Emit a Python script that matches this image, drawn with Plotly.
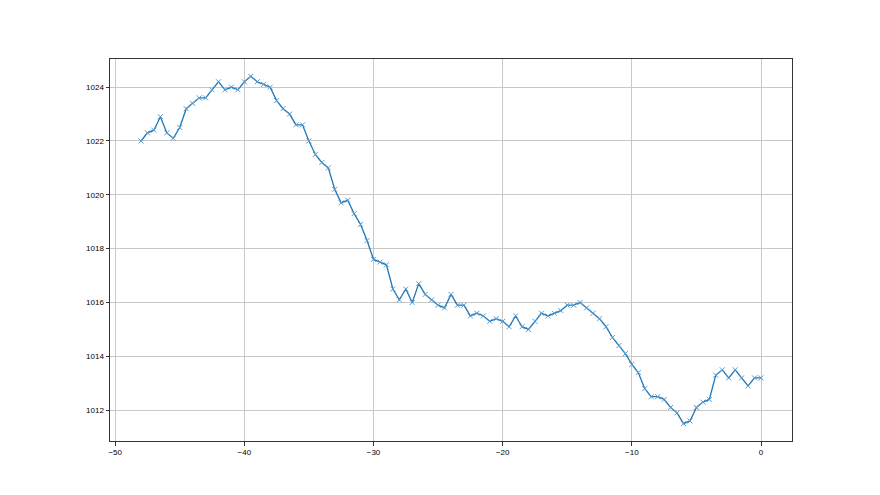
import plotly.graph_objects as go

x_values = [i * 0.5 - 48 for i in range(97)]
pressure = [
    1022.0, 1022.3, 1022.4, 1022.9, 1022.3, 1022.1, 1022.5, 1023.2, 1023.4, 1023.6,
    1023.6, 1023.9, 1024.2, 1023.9, 1024.0, 1023.9, 1024.2, 1024.4, 1024.2, 1024.1,
    1024.0, 1023.5, 1023.2, 1023.0, 1022.6, 1022.6, 1022.0, 1021.5, 1021.2, 1021.0,
    1020.2, 1019.7, 1019.8, 1019.3, 1018.9, 1018.3, 1017.6, 1017.5, 1017.4, 1016.5,
    1016.1, 1016.5, 1016.0, 1016.7, 1016.3, 1016.1, 1015.9, 1015.8, 1016.3, 1015.9,
    1015.9, 1015.5, 1015.6, 1015.5, 1015.3, 1015.4, 1015.3, 1015.1, 1015.5, 1015.1,
    1015.0, 1015.3, 1015.6, 1015.5, 1015.6, 1015.7, 1015.9, 1015.9, 1016.0, 1015.8,
    1015.6, 1015.4, 1015.1, 1014.7, 1014.4, 1014.1, 1013.7, 1013.4, 1012.8, 1012.5,
    1012.5, 1012.4, 1012.1, 1011.9, 1011.5, 1011.6, 1012.1, 1012.3, 1012.4, 1013.3,
    1013.5, 1013.2, 1013.5, 1013.2, 1012.9, 1013.2, 1013.2,
]
x_ticks = [-50, -40, -30, -20, -10, 0]
y_ticks = [1012, 1014, 1016, 1018, 1020, 1022, 1024]

color = "#1f77b4"
fig = go.Figure()
fig.add_trace(go.Scatter(
    x=x_values, y=pressure, mode="lines+markers",
    line=dict(color=color, width=1.3),
    marker=dict(symbol="x-thin", size=5, color=color, line=dict(color="#5a9bd0", width=1)),
    showlegend=False,
))

xmin, xmax = min(x_values), max(x_values)
ymin, ymax = min(pressure), max(pressure)
xpad = (xmax - xmin) * 0.05
ypad = (ymax - ymin) * 0.05

axis_common = dict(
    showline=True, linecolor="#333333", linewidth=1, mirror=True,
    ticks="outside", ticklen=3.5, tickcolor="#333333", tickwidth=1,
    showgrid=True, gridcolor="#c8c8c8", gridwidth=0.8,
    zeroline=False,
    tickfont=dict(family="Liberation Sans Narrow, Liberation Sans, DejaVu Sans", size=8, color="black"),
)
fig.update_xaxes(range=[xmin - xpad, xmax + xpad], tickvals=x_ticks, **axis_common)
fig.update_yaxes(range=[ymin - ypad, ymax + ypad], tickvals=y_ticks, **axis_common)

fig.update_layout(
    width=880, height=495,
    margin=dict(l=102, r=96, t=51, b=62),
    plot_bgcolor="white", paper_bgcolor="white",
)
fig.write_html("out.html")
